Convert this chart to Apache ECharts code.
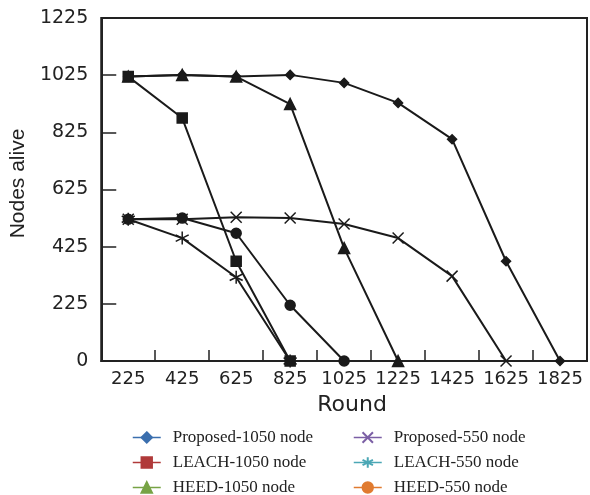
<!DOCTYPE html>
<html>
<head>
<meta charset="utf-8">
<script src="https://cdn.jsdelivr.net/npm/echarts@6/dist/echarts.min.js"></script>
<style>
  html, body { margin: 0; padding: 0; background: #fff; }
  #chart { width: 590px; height: 495px; }
</style>
</head>
<body>
<div id="chart"></div>
<script>
// rounds on the x axis
const rounds = ['225', '425', '625', '825', '1025', '1225', '1425', '1625', '1825'];

// nodes alive per round (null once the network is dead)
const proposed1050 = [1020, 1026, 1020, 1026, 998, 928, 801, 374, 0];
const leach1050 = [1020, 875, 374, 0, null, null, null, null, null];
const heed1050 = [1020, 1026, 1020, 924, 420, 0, null, null, null];
const proposed550 = [521, 521, 528, 525, 504, 455, 322, 0, null];
const leach550 = [521, 455, 318, 0, null, null, null, null, null];
const heed550 = [521, 525, 472, 220, 0, null, null, null, null];

// y axis runs 25..1225, its bottom tick is labelled "0"
const Y_MIN = 25;
const Y_MAX = 1225;

const INK = '#1a1a1a';

function makeSeries(name, values, symbol, size) {
  return {
    name: name,
    type: 'line',
    data: values.map(v => (v === null ? null : Math.max(v, Y_MIN))),
    symbol: symbol,
    symbolSize: size,
    showAllSymbol: true,
    lineStyle: { color: INK, width: 2 },
    itemStyle: { color: INK, borderColor: INK, borderWidth: 1.5 },
    z: 3,
  };
}

const crossPath = 'path://M0,0L10,10M10,0L0,10';
const starPath = 'path://M5,0L5,10M0.7,2.5L9.3,7.5M0.7,7.5L9.3,2.5';

function legendItem(name, color) {
  return {
    name: name,
    itemStyle: { color: color, borderColor: color },
    lineStyle: { color: color, width: 1.5 },
  };
}

const legendText = {
  fontFamily: 'Liberation Serif',
  fontSize: 17,
  color: '#222',
  padding: [0, 0, 0, 7],
};

// one legend per column; the narrow width makes each item its own row
function legendColumn(left, items) {
  return {
    orient: 'horizontal',
    left: left,
    top: 429,
    width: 200,
    itemWidth: 28,
    itemHeight: 13,
    itemGap: 8,
    padding: 0,
    textStyle: legendText,
    data: items,
  };
}

var myChart = echarts.init(document.getElementById('chart'), null, { renderer: 'canvas' });
const option = {
  animation: false,
  backgroundColor: '#fff',
  grid: {
    left: 101,
    right: 3,
    top: 18,
    bottom: 134,
    show: true,
    borderColor: '#222',
    borderWidth: 2,
  },
  legend: [
    legendColumn(132, [
      legendItem('Proposed-1050 node', '#3b6fae'),
      legendItem('LEACH-1050 node', '#b03a3a'),
      legendItem('HEED-1050 node', '#77a345'),
    ]),
    legendColumn(353, [
      legendItem('Proposed-550 node', '#7b5fa5'),
      legendItem('LEACH-550 node', '#4ba7b5'),
      legendItem('HEED-550 node', '#e07b30'),
    ]),
  ],
  xAxis: {
    type: 'category',
    data: rounds,
    boundaryGap: true,
    name: 'Round',
    nameLocation: 'middle',
    nameGap: 33,
    nameTextStyle: { fontFamily: 'DejaVu Sans', fontSize: 22, color: '#222', padding: [0, 0, 0, 16] },
    axisLine: { show: true, lineStyle: { color: '#222', width: 2 } },
    axisTick: { show: true, inside: true, length: 11, lineStyle: { color: '#222', width: 1.5 } },
    axisLabel: { interval: 0, margin: 9, fontFamily: 'DejaVu Sans', fontSize: 18, color: '#222' },
    splitLine: { show: false },
  },
  yAxis: {
    type: 'value',
    min: Y_MIN,
    max: Y_MAX,
    interval: 200,
    name: 'Nodes alive',
    nameLocation: 'middle',
    nameGap: 52,
    nameTextStyle: { fontFamily: 'Liberation Sans', fontSize: 21, color: '#222', padding: [0, 0, 0, 12] },
    axisLine: { show: true, lineStyle: { color: '#222', width: 2 } },
    axisTick: { show: true, inside: true, length: 15, lineStyle: { color: '#222', width: 1.5 } },
    axisLabel: {
      margin: 13,
      fontFamily: 'DejaVu Sans',
      fontSize: 19,
      color: '#222',
      formatter: v => (v === Y_MIN ? '0' : String(v)),
    },
    splitLine: { show: false },
  },
  series: [
    makeSeries('Proposed-1050 node', proposed1050, 'diamond', 9),
    makeSeries('LEACH-1050 node', leach1050, 'rect', 10),
    makeSeries('HEED-1050 node', heed1050, 'triangle', 11),
    makeSeries('Proposed-550 node', proposed550, crossPath, 11),
    makeSeries('LEACH-550 node', leach550, starPath, 13),
    makeSeries('HEED-550 node', heed550, 'circle', 10),
  ],
};
myChart.setOption(option);
</script>
</body>
</html>
